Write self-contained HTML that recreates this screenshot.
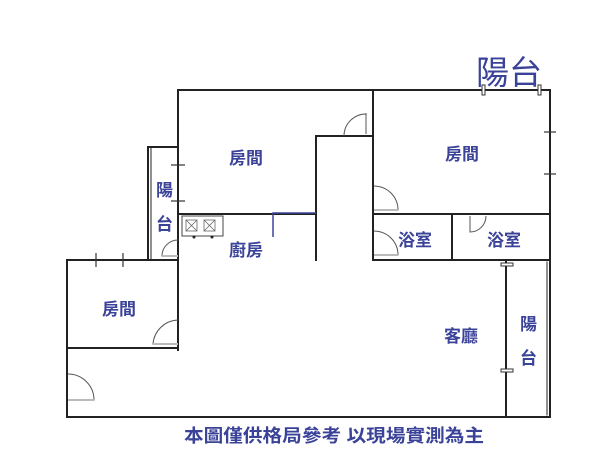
<!DOCTYPE html>
<html><head><meta charset="utf-8"><style>
html,body{margin:0;padding:0;background:#fff;}
svg{display:block}
text{font-family:"Liberation Sans","Noto Sans CJK TC",sans-serif;fill:#3b4399;}
</style></head><body>
<svg width="600" height="450" viewBox="0 0 600 450" xmlns="http://www.w3.org/2000/svg">
<g stroke="#222" stroke-width="2" fill="none" stroke-linecap="square">
<!-- top outline -->
<polyline points="178,350 178,90 550,90 550,260"/>
<line x1="373" y1="90" x2="373" y2="260"/>
<polyline points="316,260 316,136 373,136"/>
<line x1="178" y1="214" x2="316" y2="214"/>
<line x1="373" y1="214" x2="550" y2="214"/>
<line x1="452" y1="214" x2="452" y2="260"/>
<line x1="373" y1="260" x2="550" y2="260"/>
<!-- left balcony -->
<polyline points="148,260 148,147 178,147"/>
<line x1="151" y1="148" x2="151" y2="260" stroke-width="1"/>
<!-- bottom left room -->
<polyline points="178,260 67,260 67,417 550,417"/>
<polyline points="67,348 178,348"/>
<!-- right balcony -->
<line x1="506" y1="260" x2="506" y2="417"/>
<line x1="550" y1="260" x2="550" y2="417"/>
<line x1="547" y1="262" x2="547" y2="415" stroke-width="1"/>
</g>
<!-- small window ticks -->
<g stroke="#333" stroke-width="1.2">
<line x1="171" y1="165" x2="185" y2="165"/><line x1="171" y1="201" x2="185" y2="201"/>
<line x1="96" y1="253" x2="96" y2="267"/><line x1="123" y1="253" x2="123" y2="267"/>
<line x1="544" y1="132" x2="556" y2="132"/><line x1="544" y1="174" x2="556" y2="174"/>
</g>
<g fill="#fff" stroke="#333" stroke-width="1">
<rect x="482" y="85" width="3" height="10"/><rect x="538" y="85" width="3" height="10"/>
<rect x="501" y="263" width="12" height="3"/><rect x="501" y="369" width="12" height="3"/>
</g>
<!-- stove -->
<rect x="182" y="216" width="41" height="20" fill="#fff" stroke="#444" stroke-width="1"/>
<g stroke="#666" stroke-width="0.8" fill="none">
<rect x="186" y="220" width="11" height="11"/><rect x="204" y="220" width="11" height="11"/>
<line x1="186" y1="220" x2="197" y2="231"/><line x1="197" y1="220" x2="186" y2="231"/>
<line x1="204" y1="220" x2="215" y2="231"/><line x1="215" y1="220" x2="204" y2="231"/>
</g>
<circle cx="194" cy="237" r="1.5" fill="#222"/><circle cx="212" cy="237" r="1.5" fill="#222"/>
<!-- blue L -->
<polyline points="273,237 273,213 316,213" stroke="#3b4399" stroke-width="1.5" fill="none"/>
<!-- doors -->
<g stroke="#555" stroke-width="1" fill="none">
<path d="M178,256 L162,256 A16,16 0 0 1 178,240"/>
<path d="M366,113 L366,134 M366,114 A22,22 0 0 0 344,136"/>
<path d="M374,186 A24,24 0 0 1 398,210 L374,210"/>
<path d="M374,231 A24,24 0 0 1 398,255 L374,255"/>
<path d="M470,216 L470,232 A16,16 0 0 0 486,216"/>
<path d="M178,320 A26,26 0 0 0 153,344 L178,344"/>
<path d="M68,374 A26,26 0 0 1 94,400 L68,400"/>
</g>
<g fill="#bbb"><rect x="162" y="255" width="16" height="2"/><rect x="374" y="209" width="24" height="2"/><rect x="374" y="254" width="24" height="2"/><rect x="153" y="343" width="25" height="2"/><rect x="68" y="399" width="26" height="2"/></g>
<!-- labels -->
<g font-size="17" font-weight="bold">
<text x="229" y="164">房間</text>
<text x="445" y="160">房間</text>
<text x="156" y="196">陽</text>
<text x="156" y="230">台</text>
<text x="229" y="256">廚房</text>
<text x="398" y="246">浴室</text>
<text x="487" y="246">浴室</text>
<text x="102" y="315">房間</text>
<text x="444" y="342">客廳</text>
<text x="520" y="330">陽</text>
<text x="520" y="364">台</text>
</g>
<text x="476" y="84" font-size="33">陽台</text>
<text x="184" y="442" font-size="18" font-weight="bold" textLength="300" lengthAdjust="spacingAndGlyphs">本圖僅供格局參考 以現場實測為主</text>
</svg>
</body></html>
